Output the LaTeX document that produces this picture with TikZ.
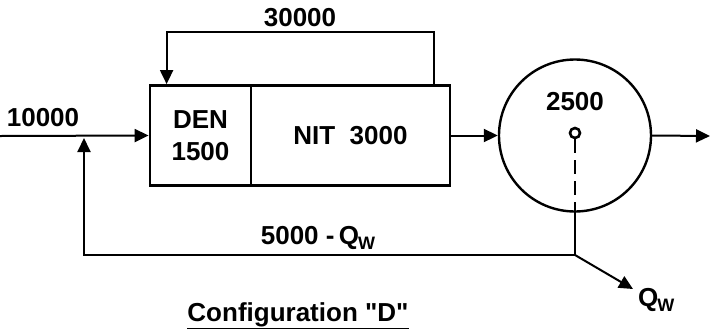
\documentclass[tikz,border=0pt]{standalone}
\usepackage{fontspec}
\setmainfont{Liberation Sans}[Ligatures=TeXOff]
\usetikzlibrary{arrows.meta}

\tikzset{
  flow/.style={line width=2pt,-{Triangle[length=14pt,width=13pt]}},
  pipe/.style={line width=2pt},
  tank/.style={draw,line width=2.8pt,inner sep=0pt},
  lbl/.style={inner sep=1pt,font=\fontsize{26}{29}\selectfont\bfseries}
}
\newcommand{\qw}{Q\kern-1pt{\fontsize{18}{18}\selectfont\raisebox{-5pt}{W}}}

\begin{document}
\begin{tikzpicture}[x=1pt,y=-1pt]
\path[use as bounding box] (0,0) rectangle (710,333);
% reactor basins
\node[tank,minimum width=101pt,minimum height=100pt] (den) at (200.5,135.5) {};
\node[tank,minimum width=199pt,minimum height=100pt] (nit) at (350.5,135.5) {};
\node[lbl,align=center,font=\fontsize{26}{32}\selectfont\bfseries] (denlbl) at (den.center) {DEN\\1500};
\node[lbl] (nitlbl) at (nit.center) {NIT\ \ 3000};
% clarifier
\node[tank,circle,minimum size=152pt,line width=2.4pt] (clar) at (575,135.5) {};
\node[draw,circle,line width=2.6pt,minimum size=10pt,inner sep=0pt] (weir) at (575,133) {};
\node[lbl] (clarlbl) at (575,102) {2500};
% flows
\coordinate (in) at (0,136);
\coordinate (out) at (710,136);
\coordinate (join) at (84,136);
\coordinate (split) at (575,255);
\coordinate (waste) at (633,289);
\draw[flow] (in) -- (den.west);
\draw[flow] ([xshift=-17pt]nit.north east) -- ++(0,-52) -| ([xshift=18pt]den.north west);
\draw[flow] (nit.east) -- (clar.west);
\draw[flow] (clar.east) -- (out);
\draw[pipe,dash pattern=on 14pt off 7pt] (weir.south) -- (clar.south);
\draw[pipe] (clar.south) -- (split);
\draw[flow] (split) -- (waste);
\draw[flow,shorten >=2pt] (split) -| (join);
% labels
\node[lbl] (feed) at (43,118) {10000};
\node[lbl] (ras) at (300,18) {30000};
\node[lbl] (was) at (318,238) {5000 -\,\qw};
\node[lbl,anchor=west] (qwlbl) at (637,300) {\qw};
\node[lbl] (title) at (298,316) {\underline{Configuration "D"}};
\end{tikzpicture}
\end{document}
